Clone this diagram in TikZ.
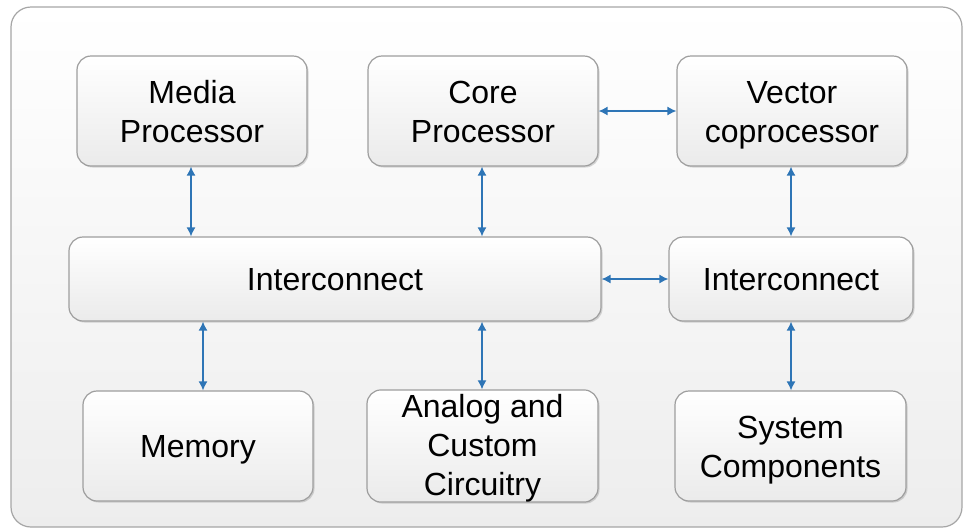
\documentclass[tikz,border=0pt]{standalone}
\usepackage{fontspec}
\setmainfont{Liberation Sans}
\usetikzlibrary{arrows.meta,shadows}
\definecolor{arrowblue}{HTML}{2E75B6}
\definecolor{boxborder}{gray}{0.62}
\newcommand{\stt}{\rule[-8pt]{0pt}{39pt}}
\tikzset{
  blk/.style={draw=boxborder, line width=1.2pt, rounded corners=14pt,
    top color=white, bottom color=black!8, align=center,
    font=\fontsize{32}{39}\selectfont, inner sep=0pt,
    drop shadow={shadow xshift=1.5pt, shadow yshift=-1.5pt, opacity=0.25, fill=black!60}},
  link/.style={draw=arrowblue, line width=1.3pt, {Latex[length=9pt,width=9pt]}-{Latex[length=9pt,width=9pt]}}
}
\begin{document}
\begin{tikzpicture}[x=1pt,y=-1pt]
\useasboundingbox (0,0) rectangle (966,528);
\fill[white] (0,0) rectangle (966,528);
\shade[top color=white, bottom color=black!7, draw=black!35, line width=1.2pt, rounded corners=20pt]
  (11,7) rectangle (962,527);
\node[blk, minimum width=230pt, minimum height=110pt] (media) at (192,111) {\stt Media\\\stt Processor};
\node[blk, minimum width=230pt, minimum height=110pt] (core) at (483,111) {\stt Core\\\stt Processor};
\node[blk, minimum width=230pt, minimum height=110pt] (vec) at (792,111) {\stt Vector\\\stt coprocessor};
\node[blk, minimum width=532pt, minimum height=84pt] (ic1) at (335,279) {\stt Interconnect};
\node[blk, minimum width=244pt, minimum height=84pt] (ic2) at (791,279) {\stt Interconnect};
\node[blk, minimum width=230pt, minimum height=110pt] (mem) at (198,446) {\stt Memory};
\node[blk, minimum width=231pt, minimum height=110pt] (ana) at (482.5,446) {\rule[-8pt]{0pt}{35.5pt}Analog and\\\stt Custom\\\rule[-4.5pt]{0pt}{35.5pt}Circuitry};
\node[blk, minimum width=231pt, minimum height=110pt] (sys) at (790.5,446) {\stt System\\\stt Components};
\draw[link] (media.south -| 191,0) -- (ic1.north -| 191,0);
\draw[link] (core.south -| 482,0) -- (ic1.north -| 482,0);
\draw[link] (vec.south -| 791,0) -- (ic2.north -| 791,0);
\draw[link] (core.east) -- (vec.west);
\draw[link] (ic1.east) -- (ic2.west);
\draw[link] (ic1.south -| 203,0) -- (mem.north -| 203,0);
\draw[link] (ic1.south -| 482,0) -- (ana.north -| 482,0);
\draw[link] (ic2.south -| 791,0) -- (sys.north -| 791,0);
\end{tikzpicture}
\end{document}
